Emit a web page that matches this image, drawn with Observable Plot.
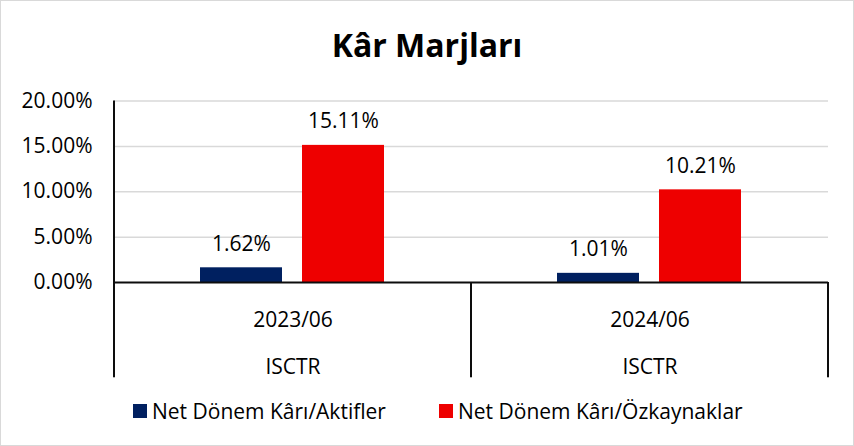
<!DOCTYPE html>
<html>
<head>
<meta charset="utf-8">
<script src="https://cdn.jsdelivr.net/npm/d3@7"></script>
<script src="https://cdn.jsdelivr.net/npm/@observablehq/plot@0.6"></script>
<style>
  html, body { margin: 0; padding: 0; background: #fff; }
  #chart {
    position: relative; width: 854px; height: 446px; box-sizing: border-box;
    border: 1px solid #d9d9d9; background: #fff; font-family: "Open Sans", sans-serif; color: #000;
  }
  #title { height: 88px; line-height: 88px; text-align: center; font-weight: bold; font-size: 32px; }
  .item { position: absolute; top: 399px; height: 22px; display: flex; align-items: center; gap: 5px; font-size: 21px; white-space: nowrap; }
  .swatch { width: 14px; height: 14px; }
</style>
</head>
<body>
<div id="chart">
  <div id="title">Kâr Marjları</div>
  <div id="plot"></div>
  <div id="legend"></div>
</div>
<script>
const periods = ["2023/06", "2024/06"];
const companies = ["ISCTR", "ISCTR"];
const seriesNames = ["Net Dönem Kârı/Aktifler", "Net Dönem Kârı/Özkaynaklar"];
const aktifler = [1.62, 1.01];
const ozkaynaklar = [15.11, 10.21];
const yTicks = [0, 5, 10, 15, 20];
const colors = ["#002060", "#ee0000"];

const rows = periods.flatMap((p, i) => [
  {period: p, series: seriesNames[0], value: aktifler[i]},
  {period: p, series: seriesNames[1], value: ozkaynaklar[i]}
]);

const boxBottom = -10.5; // lower edge of the category table, in y units
const fmt = d => d.toFixed(2) + "%";
const lineColor = "#0d0d0d";

const plot = Plot.plot({
  width: 852,
  height: 300,
  marginLeft: 113,
  marginRight: 25,
  marginTop: 11.5,
  marginBottom: 107,
  style: {fontFamily: "Open Sans, sans-serif", fontSize: "21px", overflow: "visible", color: "#000"},
  fx: {domain: periods, padding: 0},
  x: {domain: seriesNames, paddingInner: 0.196, paddingOuter: 0.848, axis: null},
  y: {domain: [0, 20]},
  color: {domain: seriesNames, range: colors},
  marks: [
    Plot.ruleY(yTicks.filter(d => d > 0), {stroke: "#d9d9d9", strokeWidth: 1.5}),
    Plot.barY(rows, {fx: "period", x: "series", y: "value", fill: "series"}),
    Plot.text(rows, {fx: "period", x: "series", y: "value", text: d => fmt(d.value), dy: -24, fontSize: 21, fill: "#000"}),
    Plot.ruleY([0], {stroke: lineColor, strokeWidth: 2}),
    Plot.rect(periods, {fx: d => d, y1: () => boxBottom, y2: (d, i) => i === 0 ? 20 : 0, fill: lineColor, insetRight: 355, dx: -1}),
    Plot.rect(periods.slice(-1), {fx: d => d, y1: () => boxBottom, y2: () => 0, fill: lineColor, insetLeft: 355, dx: 1}),
    Plot.axisY({ticks: yTicks, tickFormat: fmt, tickSize: 0, tickPadding: 22, label: null, fontSize: 21, fill: "#000"}),
    Plot.axisFx({anchor: "bottom", tickSize: 0, tickPadding: 12, label: null, fontSize: 21, lineHeight: 2.2,
      tickFormat: d => `${d}\n${companies[periods.indexOf(d)]}`, fill: "#000"})
  ]
});
document.getElementById("plot").appendChild(plot);

const legend = document.getElementById("legend");
const lefts = [132, 438];
seriesNames.forEach((name, i) => {
  const item = document.createElement("div");
  item.className = "item";
  item.style.left = lefts[i] + "px";
  const sw = document.createElement("div");
  sw.className = "swatch";
  sw.style.background = colors[i];
  const label = document.createElement("span");
  label.textContent = name;
  item.appendChild(sw);
  item.appendChild(label);
  legend.appendChild(item);
});
</script>
</body>
</html>
